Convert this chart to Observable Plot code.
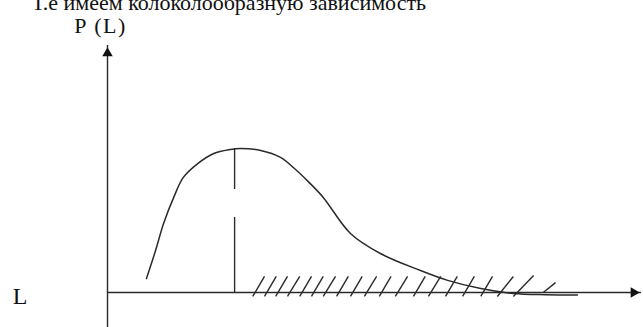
<!DOCTYPE html>
<html>
<head>
<meta charset="utf-8">
<script src="https://cdn.jsdelivr.net/npm/d3@7"></script>
<script src="https://cdn.jsdelivr.net/npm/@observablehq/plot@0.6"></script>
<style>
  html, body { margin: 0; padding: 0; background: #fff; }
  svg { display: block; }
</style>
</head>
<body>
<div id="chart"></div>
<script>
// Texts
const titleText = "Т.е имеем колоколообразную зависимость";
const yLabel = "P (L)";
const xLabel = "L";

// Bell-shaped dependence P(L)
const curveL = [0.73, 0.90, 1.05, 1.24, 1.42, 1.69, 1.99, 2.30, 2.49, 2.87, 3.24, 3.48, 3.76, 4.04, 4.55, 5.11, 5.86, 6.37, 6.99, 7.60, 8.20, 8.80];
const curveP = [0.57, 1.70, 2.79, 3.85, 4.66, 5.22, 5.63, 5.79, 5.83, 5.75, 5.47, 5.06, 4.49, 3.85, 2.39, 1.58, 0.89, 0.49, 0.16, -0.04, -0.09, -0.10];

// Broken vertical line under the maximum
const peakL = 2.38;
const peakSegTop = [5.83, 3.04];
const peakSegBottom = [4.17, 0];

// Hatching along the L axis
const hatchFromL = [2.72, 2.94, 3.15, 3.37, 3.60, 3.82, 4.04, 4.29, 4.55, 4.81, 5.09, 5.39, 5.73, 6.01, 6.33, 6.65, 6.99, 7.30, 7.60, 8.16];
const hatchToL   = [2.94, 3.16, 3.37, 3.60, 3.82, 4.04, 4.27, 4.51, 4.77, 5.04, 5.31, 5.62, 5.95, 6.24, 6.55, 6.87, 7.21, 7.60, 7.98, 8.39];
const hatchFromP = [-0.16, -0.16, -0.16, -0.16, -0.16, -0.16, -0.16, -0.16, -0.16, -0.16, -0.16, -0.16, -0.16, -0.16, -0.16, -0.16, -0.16, -0.16, -0.16, 0.00];
const hatchToP   = [0.65, 0.65, 0.65, 0.65, 0.65, 0.65, 0.65, 0.65, 0.65, 0.65, 0.65, 0.65, 0.65, 0.65, 0.65, 0.65, 0.65, 0.65, 0.69, 0.40];

// Axis extents
const xMax = 10;
const yMax = 10;
const yMin = -1.5;

const curve = curveL.map((L, i) => ({L, P: curveP[i]}));
const peakSegs = peakSegTop.map((t, i) => ({L: peakL, top: t, bottom: peakSegBottom[i]}));
const hatches = hatchFromL.map((x1, i) => ({x1, x2: hatchToL[i], y1: hatchFromP[i], y2: hatchToP[i]}));

const ink = "#2a2a2a";

const chart = Plot.plot({
  width: 643,
  height: 327,
  marginLeft: 107,
  marginRight: 2,
  marginTop: 45,
  marginBottom: 35,
  x: {domain: [0, xMax], axis: null},
  y: {domain: [0, yMax], axis: null},
  style: {background: "#fff"},
  marks: [
    // axes
    Plot.ruleY([0], {x1: 0, x2: xMax, stroke: ink, strokeWidth: 1.4}),
    Plot.ruleX([0], {y1: yMin, y2: yMax, stroke: ink, strokeWidth: 1.4}),
    Plot.dot([{L: 0, P: yMax}], {x: "L", y: "P", symbol: "triangle2", r: 5, fill: "#111", stroke: "none", dy: 7.8}),
    Plot.dot([{L: xMax, P: 0}], {x: "L", y: "P", symbol: "triangle2", r: 5, fill: "#111", stroke: "none", rotate: 90, dx: -7.8}),
    // hatching
    Plot.link(hatches, {x1: "x1", y1: "y1", x2: "x2", y2: "y2", stroke: ink, strokeWidth: 1.4}),
    // broken line under the maximum
    Plot.ruleX(peakSegs, {x: "L", y1: "bottom", y2: "top", stroke: ink, strokeWidth: 1.4}),
    // the bell curve
    Plot.line(curve, {x: "L", y: "P", curve: "catmull-rom", stroke: ink, strokeWidth: 1.5}),
    // texts
    Plot.text([titleText], {frameAnchor: "top-left", textAnchor: "start", lineAnchor: "bottom", dx: -76, dy: -36, fill: "#111"}),
    Plot.text([yLabel], {frameAnchor: "top-left", textAnchor: "middle", lineAnchor: "bottom", dx: -7, dy: -13, fill: "#111"}),
    Plot.text([xLabel], {frameAnchor: "bottom-left", textAnchor: "middle", lineAnchor: "bottom", dx: -87.5, dy: 11, fill: "#111"})
  ]
});

// serif typeface and sizes for the labels
const sizes = new Map([[titleText, 22], [yLabel, 22], [xLabel, 24]]);
d3.select(chart).selectAll("text")
  .style("font-family", "'Liberation Serif'")
  .style("font-size", function () { return (sizes.get(this.textContent) || 22) + "px"; });
d3.select(chart).selectAll("text").filter(function () { return this.textContent === yLabel; })
  .attr("letter-spacing", "1.5px");

document.getElementById("chart").appendChild(chart);
</script>
</body>
</html>
